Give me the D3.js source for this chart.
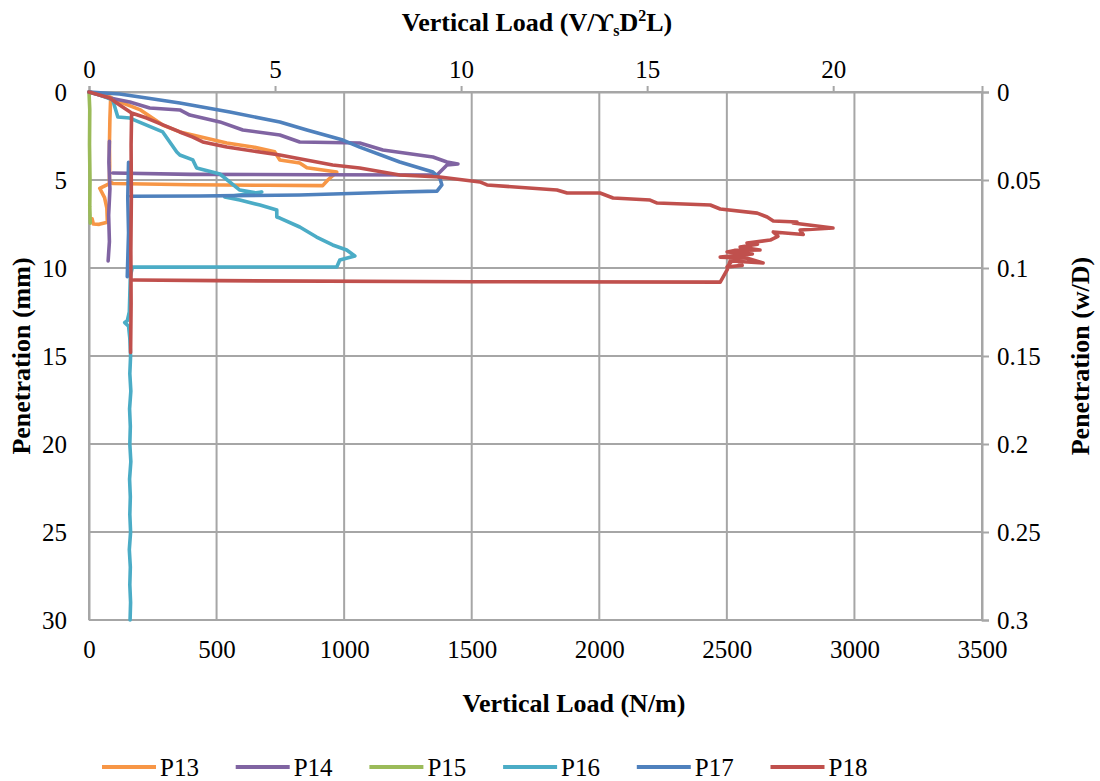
<!DOCTYPE html>
<html>
<head>
<meta charset="utf-8">
<script src="https://cdn.jsdelivr.net/npm/d3@7"></script>
<style>
  html, body { margin: 0; padding: 0; background: #fff; overflow: hidden; }
  svg { display: block; font-family: "Liberation Serif", "Times New Roman", serif; }
  .axis-title { font-size: 26px; font-weight: bold; fill: #000; }
  .legend-label { font-size: 25px; fill: #000; }
</style>
</head>
<body>
<svg id="chart"></svg>
<script>
// data: [load N/m, penetration mm], null = gap in the trace
const p13 = [
  [0, 0], [55, 0.15], [85, 0.3], [82, 1.5], [80, 3], [81, 4.2], [80, 5.1], [95, 5.2],
  [400, 5.27], [700, 5.3], [916, 5.32], [936, 5.0], [971, 4.55], [854, 4.3], [826, 4.03],
  [748, 3.86], [728, 3.4], [642, 3.12], [540, 2.9], [356, 2.27], [289, 1.88], [199, 1.0],
  [110, 0.5], [85, 0.3],
  null,
  [80, 5.2], [42, 5.47], [61, 6.0], [70, 6.6], [72, 7.4], [40, 7.52], [17, 7.5], [12, 7.2]
];
const p14 = [
  [0, 0], [42, 0.17], [81, 0.34], [160, 0.57], [238, 0.91], [356, 1.02], [395, 1.31],
  [513, 1.7], [603, 2.16], [748, 2.44], [826, 2.84], [1061, 2.9], [1152, 3.3], [1348, 3.69],
  [1403, 3.98], [1446, 4.09], [1403, 4.15], [1364, 4.72], [900, 4.7], [400, 4.68], [93, 4.6],
  null,
  [80, 2.8], [78, 4], [82, 5.5], [77, 7], [80, 8.5], [75, 9.6]
];
const p15 = [
  [0, 0], [3, 1], [2, 3], [4, 5], [3, 6.5], [5, 7.45]
];
const p16 = [
  [0, 0], [42, 0.17], [93, 0.45], [113, 1.42], [160, 1.48], [289, 2.27], [344, 3.41],
  [356, 3.58], [407, 3.86], [422, 4.32], [513, 4.66], [591, 5.57], [658, 5.74], [677, 5.68],
  [532, 5.97], [591, 6.14], [670, 6.42], [736, 6.7], [736, 7.1], [748, 7.16], [826, 7.67],
  [892, 8.24], [955, 8.69], [1010, 8.98], [1042, 9.32], [983, 9.55], [971, 9.94],
  [600, 9.94], [300, 9.95], [175, 9.95],
  null,
  [170, 9.94], [162, 10.5], [160, 11.5], [158, 12.5], [150, 13.0], [140, 13.1], [155, 13.3],
  [160, 14], [163, 15], [160, 16], [164, 17], [159, 18], [162, 19], [160, 20], [164, 21],
  [159, 22], [162, 23], [160, 24], [163, 25], [158, 26], [162, 27], [160, 28], [163, 29], [161, 30]
];
const p17 = [
  [0, 0], [120, 0.11], [226, 0.34], [356, 0.63], [552, 1.14], [748, 1.7], [854, 2.16],
  [995, 2.73], [1061, 3.13], [1218, 3.98], [1348, 4.55], [1375, 4.89], [1383, 5.28],
  [1364, 5.63], [1218, 5.68], [826, 5.85], [434, 5.91], [165, 5.92],
  null,
  [155, 4.0], [152, 6], [155, 8], [150, 10.5]
];
const p18 = [
  [0, 0], [81, 0.34], [120, 0.74], [167, 1.19], [226, 1.48], [356, 2.27], [407, 2.56],
  [446, 2.84], [540, 3.13], [748, 3.58], [955, 4.15], [1061, 4.32], [1218, 4.72],
  [1375, 4.83], [1532, 5.11], [1560, 5.28], [1834, 5.57], [1874, 5.74], [2003, 5.74],
  [2054, 6.02], [2199, 6.14], [2227, 6.31], [2435, 6.42], [2474, 6.65], [2619, 6.88],
  [2658, 7.1], [2682, 7.33], [2775, 7.39], [2759, 7.44], [2916, 7.73], [2787, 7.84],
  [2799, 8.1], [2682, 7.95], [2700, 8.2], [2670, 8.41], [2579, 8.58], [2620, 8.65],
  [2552, 8.81], [2630, 8.98], [2530, 9.0], [2501, 9.09], [2600, 9.2], [2474, 9.38],
  [2580, 9.45], [2642, 9.72], [2520, 9.6], [2501, 9.94], [2560, 9.85], [2520, 9.3],
  [2501, 10.11], [2474, 10.8], [1500, 10.78], [500, 10.72], [175, 10.68],
  null,
  [167, 1.19], [165, 3], [166, 6], [164, 9], [165, 12], [163, 14.8]
];

const seriesNames = ["P13", "P14", "P15", "P16", "P17", "P18"];
const seriesData = [p13, p14, p15, p16, p17, p18];
const colors = ["#F79646", "#8064A2", "#9BBB59", "#4BACC6", "#4F81BD", "#C0504D"];

const loadTicks = [0, 500, 1000, 1500, 2000, 2500, 3000, 3500];
const penTicks = [0, 5, 10, 15, 20, 25, 30];
const normLoadTicks = [0, 5, 10, 15, 20];
const normPenTicks = [0, 0.05, 0.1, 0.15, 0.2, 0.25, 0.3];

const width = 1100;
const height = 781;
const margin = { top: 92, right: 118, bottom: 161, left: 89 };
const innerWidth = width - margin.left - margin.right;
const innerHeight = height - margin.top - margin.bottom;

const svg = d3.select("#chart").attr("width", width).attr("height", height);

const xScale = d3.scaleLinear().domain([0, 3500]).range([0, innerWidth]);
const yScale = d3.scaleLinear().domain([0, 30]).range([0, innerHeight]);
// secondary axes
const xTop = d3.scaleLinear().domain([0, 24]).range([0, innerWidth]);
const yRight = d3.scaleLinear().domain([0, 0.3]).range([0, innerHeight]);

const g = svg.append("g")
  .attr("transform", `translate(${margin.left},${margin.top})`);

const gridColor = "#a6a6a6";

// gridlines
g.append("g").selectAll("line").data(loadTicks).enter().append("line")
  .attr("x1", d => xScale(d)).attr("x2", d => xScale(d))
  .attr("y1", 0).attr("y2", innerHeight)
  .attr("stroke", gridColor).attr("stroke-width", 2);
g.append("g").selectAll("line").data(penTicks).enter().append("line")
  .attr("x1", 0).attr("x2", innerWidth)
  .attr("y1", d => yScale(d)).attr("y2", d => yScale(d))
  .attr("stroke", gridColor).attr("stroke-width", 2);

// bottom axis (labels only)
const xAxisG = g.append("g")
  .attr("transform", `translate(0,${innerHeight})`)
  .call(d3.axisBottom(xScale).tickValues(loadTicks).tickSize(0).tickPadding(20)
    .tickFormat(d3.format("d")));
// left axis
const yAxisG = g.append("g")
  .call(d3.axisLeft(yScale).tickValues(penTicks).tickSize(0).tickPadding(22));
// top axis
const xTopG = g.append("g")
  .call(d3.axisTop(xTop).tickValues(normLoadTicks).tickSize(6).tickPadding(8));
// right axis
const yRightG = g.append("g")
  .attr("transform", `translate(${innerWidth},0)`)
  .call(d3.axisRight(yRight).tickValues(normPenTicks).tickSize(7).tickPadding(8)
    .tickFormat(d => d3.format("~g")(d)));

[xAxisG, yAxisG, xTopG, yRightG].forEach(a => {
  a.attr("font-size", 25).attr("font-family", "'Liberation Serif', 'Times New Roman', serif");
  a.select(".domain").attr("stroke", gridColor).attr("stroke-width", 2);
  a.selectAll(".tick line").attr("stroke", gridColor).attr("stroke-width", 2);
  a.selectAll(".tick text").attr("fill", "#000");
});
xAxisG.select(".domain").remove();

// data lines
const line = d3.line()
  .defined(d => d !== null)
  .x(d => xScale(d[0]))
  .y(d => yScale(d[1]));

seriesData.forEach((s, i) => {
  g.append("path")
    .datum(s)
    .attr("fill", "none")
    .attr("stroke", colors[i])
    .attr("stroke-width", 3.6)
    .attr("stroke-linejoin", "round")
    .attr("stroke-linecap", "round")
    .attr("d", line);
});

// axis titles
svg.append("text")
  .attr("class", "axis-title")
  .attr("x", 574)
  .attr("y", 712)
  .attr("text-anchor", "middle")
  .text("Vertical Load (N/m)");

const topTitle = svg.append("text")
  .attr("class", "axis-title")
  .attr("x", 537)
  .attr("y", 31)
  .attr("text-anchor", "middle");
topTitle.append("tspan").text("Vertical Load (V/\u03D2");
topTitle.append("tspan").attr("font-size", "16px").attr("dy", 5).text("s");
topTitle.append("tspan").attr("dy", -5).text("D");
topTitle.append("tspan").attr("font-size", "16px").attr("dy", -10).text("2");
topTitle.append("tspan").attr("dy", 10).text("L)");

svg.append("text")
  .attr("class", "axis-title")
  .attr("transform", `translate(30,${margin.top + innerHeight / 2}) rotate(-90)`)
  .attr("text-anchor", "middle")
  .text("Penetration (mm)");

svg.append("text")
  .attr("class", "axis-title")
  .attr("transform", `translate(1089,${margin.top + innerHeight / 2}) rotate(-90)`)
  .attr("text-anchor", "middle")
  .text("Penetration (w/D)");

// legend
const legend = svg.append("g").attr("transform", "translate(102,767)");
seriesNames.forEach((name, i) => {
  const item = legend.append("g").attr("transform", `translate(${i * 133.7},0)`);
  item.append("line")
    .attr("x1", 0).attr("x2", 54)
    .attr("y1", 0).attr("y2", 0)
    .attr("stroke", colors[i]).attr("stroke-width", 4);
  item.append("text")
    .attr("class", "legend-label")
    .attr("x", 58)
    .attr("y", 9)
    .text(name);
});
</script>
</body>
</html>
